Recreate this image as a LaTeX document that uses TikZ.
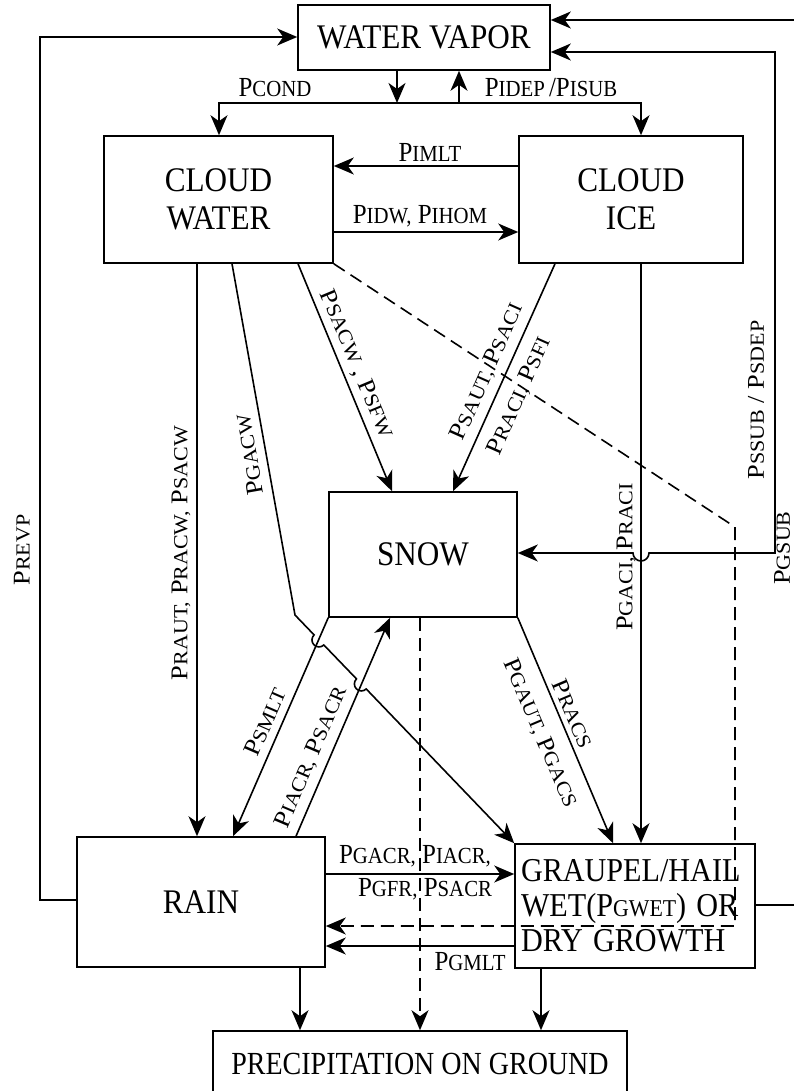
\documentclass[tikz,border=0pt]{standalone}
\usepackage{fontspec}
\setmainfont{Liberation Serif}
\usetikzlibrary{arrows.meta}
\newcommand\vs[1]{\scalebox{1.04}[1.15]{#1}}
\newcommand\hs[1]{\scalebox{1.1}[1]{#1}}
\newcommand\Pq[1]{P{\fontsize{20}{20}\selectfont #1}}
\begin{document}
\begin{tikzpicture}[x=1pt,y=-1pt,
  box/.style={draw, line width=1.6pt, inner sep=0pt, font=\fontsize{30}{38}\selectfont, align=center},
  lbl/.style={inner sep=0pt, font=\fontsize{24}{24}\selectfont},
  arrowtip/.style={-{Stealth[length=20pt,width=17pt,inset=6pt]}},
  flow/.style={line width=1.6pt, arrowtip},
  dsh/.style={line width=1.6pt, dash pattern=on 13pt off 7pt}]
\useasboundingbox (0,0) rectangle (794,1091);
% boxes
\node[box, minimum width=252pt, minimum height=65pt] (wv) at (424,37.5) {\vs{WATER VAPOR}};
\node[box, minimum width=229pt, minimum height=127pt] (cw) at (218.5,199.5) {\vs{CLOUD}\\\vs{WATER}};
\node[box, minimum width=224pt, minimum height=127pt] (ci) at (631,199.5) {\vs{CLOUD}\\\vs{ICE}};
\node[box, minimum width=188pt, minimum height=125pt] (sn) at (423,554.5) {\vs{SNOW}};
\node[box, minimum width=248pt, minimum height=130pt] (rn) at (201,902) {\vs{RAIN}};
\node[box, minimum width=240pt, minimum height=124pt, text width=228pt, align=left, font=\fontsize{29}{35}\selectfont] (gr) at (635,906) {\vs{GRAUPEL/HAIL}\\\vs{WET(P{\fontsize{21}{21}\selectfont GWET}) OR}\\\vs{DRY GROWTH}};
\node[box, minimum width=414pt, minimum height=66pt, font=\fontsize{28}{30}\selectfont] (pg) at (420,1064) {\scalebox{1}[1.15]{PRECIPITATION ON GROUND}};
% junction coordinates
\coordinate (jd) at (397,103);
\coordinate (ju) at (459,103);
\coordinate (jl) at (219,103);
\coordinate (jr) at (641,103);
% vapor exchange
\draw[flow] (jd |- wv.south) -- (jd);
\draw[flow] (ju) -- (ju |- wv.south);
\draw[flow] (jd) -| (jl |- cw.north);
\draw[flow] (jd) -| (jr |- ci.north);
% cloud water / ice
\draw[flow] (ci.west |- 0,166) -- (cw.east |- 0,166);
\draw[flow] (cw.east |- 0,232) -- (ci.west |- 0,232);
\draw[flow] (197,0 |- cw.south) -- (197,0 |- rn.north);
\draw[flow] (641,0 |- ci.south) -- (641,0 |- gr.north);
\draw[flow] (555,0 |- ci.south) -- (453,0 |- sn.north);
\draw[flow] (298,0 |- cw.south) -- (392,0 |- sn.north);
\draw[flow] (sn.south east) -- (613,0 |- gr.north);
\draw[flow] (sn.south west) -- (233,0 |- rn.north);
\draw[flow] (296,0 |- rn.north) -- (390,0 |- sn.south);
\draw[flow] (232,0 |- cw.south) -- (295,615) -- (314.1,634.9) arc[start angle=134, end angle=314, radius=7pt] -- (356.5,678.9) arc[start angle=134, end angle=314, radius=7pt] -- (gr.north west);
% vapor loops
\draw[line width=1.6pt, {Stealth[length=20pt,width=17pt,inset=6pt]}-{Stealth[length=20pt,width=17pt,inset=6pt]}] (wv.east |- 0,52) -- (775,52) -- (775,553) -- (649,553) arc[start angle=0, end angle=-180, radius=8pt] -- (sn.east |- 0,553);
\draw[flow] (gr.east |- 0,905) -- (812,905) -- (812,20) -- (wv.east |- 0,20);
\draw[flow] (rn.west |- 0,900) -- (40,900) -- (40,37) -- (wv.west |- 0,37);
% dashed
\draw[dsh, arrowtip] (cw.south east) -- (735,527) -- (735,926) -- (rn.east |- 0,926);
\draw[dsh, arrowtip] (420,0 |- sn.south) -- (420,0 |- pg.north);
% rain / graupel
\draw[flow] (rn.east |- 0,874) -- (gr.west |- 0,874);
\draw[flow] (gr.west |- 0,946) -- (rn.east |- 0,946);
\draw[flow] (300,0 |- rn.south) -- (300,0 |- pg.north);
\draw[flow] (541,0 |- gr.south) -- (541,0 |- pg.north);
% labels
\node[lbl] (lcond) at (275,88) {\vs{\Pq{COND}}};
\node[lbl] (lidep) at (551,88) {\vs{\Pq{IDEP}\,/\Pq{ISUB}}};
\node[lbl] (limlt) at (430,152) {\vs{\Pq{IMLT}}};
\node[lbl] (lidw) at (420,216) {\vs{\Pq{IDW,} \Pq{IHOM}}};
\node[lbl, rotate=90] (lrevp) at (22,550) {\hs{\Pq{REVP}}};
\node[lbl, rotate=90] (lraut) at (181,553) {\hs{\Pq{RAUT,} \Pq{RACW,} \Pq{SACW}}};
\node[lbl, rotate=100] (lgacw) at (249,455) {\hs{\Pq{GACW}}};
\node[lbl, rotate=-67.3] (lsacw) at (356,364) {\hs{\Pq{SACW} , \Pq{SFW}}};
\node[lbl, rotate=66.1] (lsaut) at (487,372) {\hs{\Pq{SAUT,} \Pq{SACI}}};
\node[lbl, rotate=66.1] (lraci) at (519,396) {\hs{\Pq{RACI,} \Pq{SFI}}};
\node[lbl, rotate=90] (lgaci) at (626,557) {\hs{\Pq{GACI,} \Pq{RACI}}};
\node[lbl, rotate=90] (lssub) at (756,400) {\hs{\Pq{SSUB} / \Pq{SDEP}}};
\node[lbl, rotate=90] (lgsub) at (782,548) {\hs{\Pq{GSUB}}};
\node[lbl, rotate=66.4] (lsmlt) at (265,722) {\hs{\Pq{SMLT}}};
\node[lbl, rotate=66.9] (liacr) at (311,757) {\hs{\Pq{IACR,} \Pq{SACR}}};
\node[lbl, rotate=-67] (lracs) at (573,714) {\hs{\Pq{RACS}}};
\node[lbl, rotate=-67] (lgaut) at (540,733) {\hs{\Pq{GAUT,} \Pq{GACS}}};
\node[lbl] (lgacr) at (415,856) {\vs{\Pq{GACR,} \Pq{IACR,}}};
\node[lbl] (lgfr) at (425,889) {\vs{\Pq{GFR,} \Pq{SACR}}};
\node[lbl] (lgmlt) at (470,962) {\vs{\Pq{GMLT}}};
\end{tikzpicture}
\end{document}
